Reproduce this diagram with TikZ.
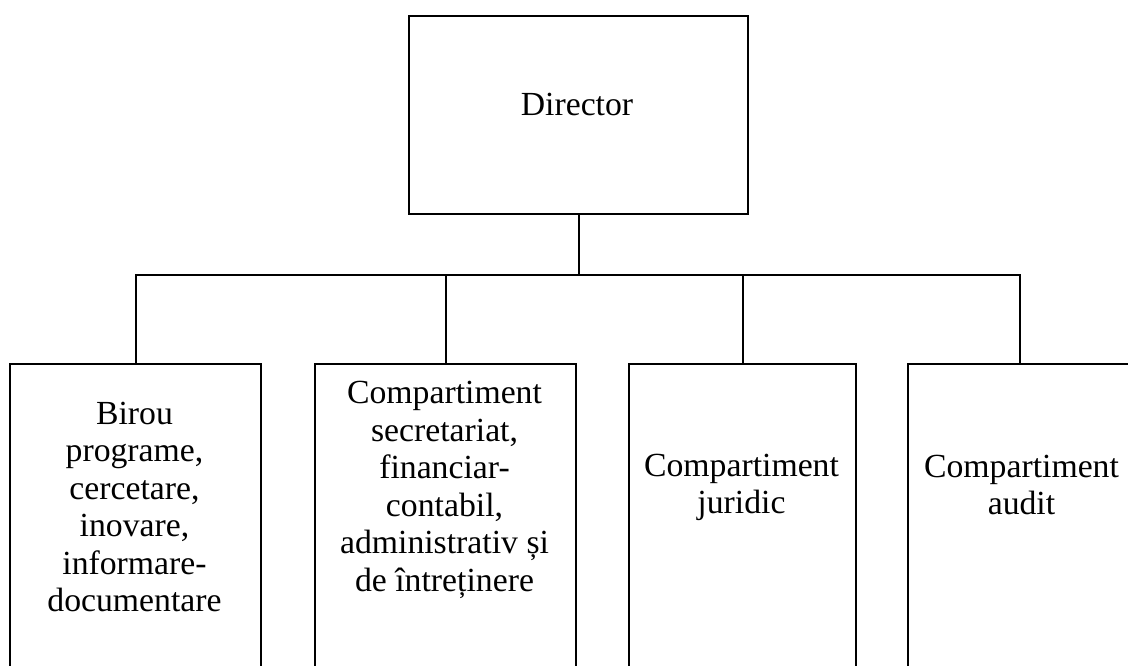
\documentclass[tikz,border=0pt]{standalone}
\usepackage{fontspec}
\setmainfont{Liberation Serif}
\begin{document}
\begin{tikzpicture}[x=0.75pt,y=-0.75pt,
  boxshape/.style={draw, line width=1.5pt, anchor=north west, inner sep=0pt},
  lbl/.style={align=center, inner sep=0pt, font=\fontsize{25.3pt}{28.1pt}\selectfont},
  link/.style={line width=1.5pt}]
\useasboundingbox (0,0) rectangle (1128,666);
\clip (0,0) rectangle (1128,666);
% boxes
\node[boxshape, minimum width=254.25pt, minimum height=148.5pt] (dir) at (408,15) {};
\node[boxshape, minimum width=188.25pt, minimum height=260pt] (b1) at (9,363) {};
\node[boxshape, minimum width=195.75pt, minimum height=260pt] (b2) at (314,363) {};
\node[boxshape, minimum width=170.25pt, minimum height=260pt] (b3) at (628,363) {};
\node[boxshape, minimum width=168pt, minimum height=260pt] (b4) at (907,363) {};
% texts
\node[lbl] (tdir) at (577,105) {Director};
\node[lbl] (t1) at (134.5,507) {Birou\\programe,\\cercetare,\\inovare,\\informare-\\documentare};
\node[lbl] (t2) at (444.5,490) {Compartiment\\secretariat,\\financiar-\\contabil,\\administrativ și\\de întreținere};
\node[lbl] (t3) at (741.5,487.5) {Compartiment\\juridic};
\node[lbl] (t4) at (1021.5,485) {Compartiment\\audit};
% connectors
\coordinate (bus) at (576,275);
\draw[link] (dir.south) -- (dir.south |- bus);
\draw[link] (b1.north) |- (b4.north |- bus) -- (b4.north);
\draw[link] (b2.north) -- (b2.north |- bus);
\draw[link] (b3.north) -- (b3.north |- bus);
\end{tikzpicture}
\end{document}
